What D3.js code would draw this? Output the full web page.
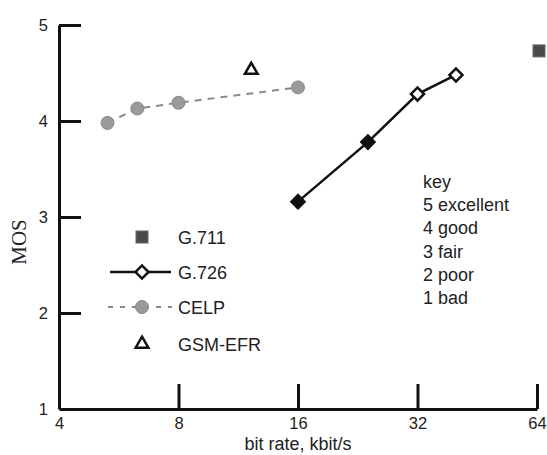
<!DOCTYPE html>
<html>
<head>
<meta charset="utf-8">
<script src="https://cdn.jsdelivr.net/npm/d3@7"></script>
<style>
  body { margin: 0; background: #fff; }
  svg text { font-family: "Liberation Sans", Arial, sans-serif; fill: #222; }
</style>
</head>
<body>
<svg id="svg" width="547" height="455"></svg>
<script>
// bit rate (kbit/s) and MOS for each coder
var g711Rate = [64],              g711Mos = [4.73];
var g726Rate = [16, 24, 32, 40],  g726Mos = [3.16, 3.78, 4.28, 4.48];
var celpRate = [5.3, 6.3, 8, 16], celpMos = [3.98, 4.13, 4.19, 4.35];
var gsmRate = [12.2],             gsmMos = [4.53];

var xTicks = [4, 8, 16, 32, 64];
var yTicks = [1, 2, 3, 4, 5];
var legendNames = ["G.711", "G.726", "CELP", "GSM-EFR"];
var keyLines = ["key", "5 excellent", "4 good", "3 fair", "2 poor", "1 bad"];

var svg = d3.select("#svg");

var x = d3.scaleLog().base(2).domain([4, 64]).range([59, 537]);
var y = d3.scaleLinear().domain([1, 5]).range([409, 25]);

function zip(a, b) { return a.map(function(d, i) { return [d, b[i]]; }); }

// axes, ticks pointing inwards
var yAxis = svg.append("g").attr("transform", "translate(" + x(4) + ",0)")
    .call(d3.axisLeft(y).tickValues(yTicks).tickFormat(d3.format("d"))
        .tickSize(-22).tickSizeOuter(0).tickPadding(11));
var xAxis = svg.append("g").attr("transform", "translate(0," + y(1) + ")")
    .call(d3.axisBottom(x).tickValues(xTicks).tickFormat(d3.format("d"))
        .tickSize(-25).tickSizeOuter(0).tickPadding(8));
[xAxis, yAxis].forEach(function(a) {
  a.select(".domain").attr("stroke", "#111").attr("stroke-width", 3);
  a.selectAll(".tick line").attr("stroke", "#111").attr("stroke-width", 3);
  a.selectAll(".tick text").attr("font-size", 16.5).attr("fill", "#333")
    .attr("font-family", "Liberation Sans, Arial, sans-serif");
});
// the 1 tick sits on the x axis and the 4 tick on the y axis
yAxis.selectAll(".tick").filter(function(d) { return d == 1; }).select("line").remove();
xAxis.selectAll(".tick").filter(function(d) { return d == 4; }).select("line").remove();

// axis titles
svg.append("text")
    .attr("transform", "translate(26,242) rotate(-90)")
    .attr("text-anchor", "middle")
    .style("font-family", "'Liberation Serif', 'Times New Roman', serif")
    .attr("font-size", 21)
    .text("MOS");
svg.append("text")
    .attr("x", x(16)).attr("y", 450)
    .attr("text-anchor", "middle")
    .attr("font-size", 18)
    .text("bit rate, kbit/s");

var line = d3.line().x(function(d) { return x(d[0]); }).y(function(d) { return y(d[1]); });

// CELP dashed line + grey dots
svg.append("path").datum(zip(celpRate, celpMos))
    .attr("d", line).attr("fill", "none")
    .attr("stroke", "#8a8a8a").attr("stroke-width", 2).attr("stroke-dasharray", "7,6");
svg.selectAll(".celp").data(zip(celpRate, celpMos)).enter().append("circle")
    .attr("class", "celp")
    .attr("cx", function(d) { return x(d[0]); })
    .attr("cy", function(d) { return y(d[1]); })
    .attr("r", 6.5)
    .attr("fill", "#9a9a9a").attr("stroke", "#888").attr("stroke-width", 1);

// G.726 solid line + diamonds
svg.append("path").datum(zip(g726Rate, g726Mos))
    .attr("d", line).attr("fill", "none")
    .attr("stroke", "#111").attr("stroke-width", 2.5);
var diamond = d3.symbol().type(d3.symbolSquare).size(85);
svg.selectAll(".g726").data(zip(g726Rate, g726Mos)).enter().append("path")
    .attr("class", "g726")
    .attr("d", diamond)
    .attr("transform", function(d) { return "translate(" + x(d[0]) + "," + y(d[1]) + ") rotate(45)"; })
    .attr("fill", function(d, i) { return i < 2 ? "#111" : "#fff"; })
    .attr("stroke", "#111").attr("stroke-width", 2.5);

// G.711 square
svg.selectAll(".g711").data(zip(g711Rate, g711Mos)).enter().append("rect")
    .attr("class", "g711")
    .attr("x", function(d) { return x(d[0]) - 6 + 2; })
    .attr("y", function(d) { return y(d[1]) - 6; })
    .attr("width", 12).attr("height", 12)
    .attr("fill", "#4a4a4a").attr("stroke", "#666").attr("stroke-width", 1);

// GSM-EFR triangle
var tri = d3.symbol().type(d3.symbolTriangle).size(70);
svg.selectAll(".gsm").data(zip(gsmRate, gsmMos)).enter().append("path")
    .attr("class", "gsm")
    .attr("d", tri)
    .attr("transform", function(d) { return "translate(" + x(d[0]) + "," + y(d[1]) + ")"; })
    .attr("fill", "#fff").attr("stroke", "#111").attr("stroke-width", 2.5);

// legend
var lx = 142, ly = [237, 272, 307, 344];
var leg = svg.append("g");
leg.append("rect").attr("x", lx - 6).attr("y", ly[0] - 6).attr("width", 12).attr("height", 12)
    .attr("fill", "#4a4a4a").attr("stroke", "#666");
leg.append("line").attr("x1", 110).attr("x2", 171).attr("y1", ly[1]).attr("y2", ly[1])
    .attr("stroke", "#111").attr("stroke-width", 2.5);
leg.append("path").attr("d", diamond).attr("transform", "translate(" + lx + "," + ly[1] + ") rotate(45)")
    .attr("fill", "#fff").attr("stroke", "#111").attr("stroke-width", 2.5);
leg.append("line").attr("x1", 108).attr("x2", 172).attr("y1", ly[2]).attr("y2", ly[2])
    .attr("stroke", "#8a8a8a").attr("stroke-width", 2).attr("stroke-dasharray", "5,7");
leg.append("circle").attr("cx", lx).attr("cy", ly[2]).attr("r", 6.5)
    .attr("fill", "#9a9a9a").attr("stroke", "#888");
leg.append("path").attr("d", tri).attr("transform", "translate(" + lx + "," + ly[3] + ")")
    .attr("fill", "#fff").attr("stroke", "#111").attr("stroke-width", 2.5);
leg.selectAll("text").data(legendNames).enter().append("text")
    .attr("x", 178).attr("y", function(d, i) { return ly[i] + 6.5; })
    .attr("font-size", 18).attr("fill", "#333")
    .text(function(d) { return d; });

// MOS key
svg.selectAll(".key").data(keyLines).enter().append("text")
    .attr("class", "key")
    .attr("x", 423).attr("y", function(d, i) { return 188 + i * 23.2; })
    .attr("font-size", 18).attr("fill", "#333")
    .text(function(d) { return d; });
</script>
</body>
</html>
